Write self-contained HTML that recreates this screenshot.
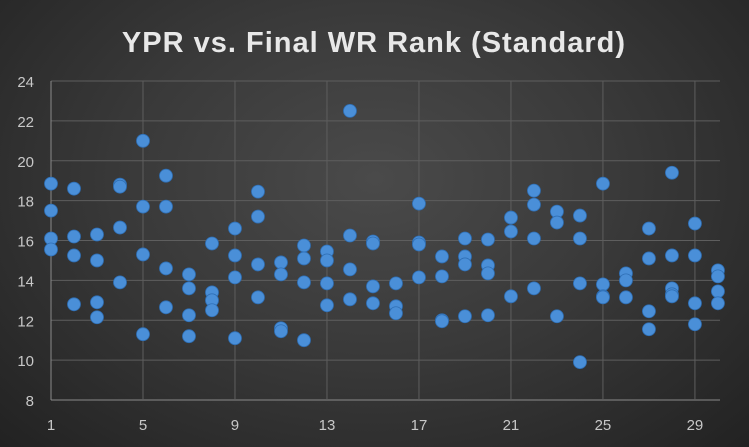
<!DOCTYPE html>
<html><head><meta charset="utf-8"><style>
html,body{margin:0;padding:0;background:#2b2b2b}
#wrap{width:749px;height:447px;position:relative;overflow:hidden;background:radial-gradient(ellipse at 50% 40%,#4a4a4a 0%,#3a3a3a 45%,#222 100%)}
svg{position:absolute;left:0;top:0}
text{font-family:"Liberation Sans",sans-serif}
</style></head><body>
<div id="wrap">
<svg id="chart" width="749" height="447">
<text x="374" y="52" text-anchor="middle" fill="#e8e8e8" font-size="29" font-weight="bold" letter-spacing="1">YPR vs. Final WR Rank (Standard)</text>
<g id="grid"></g>
<g id="axes"></g>
<g id="pts"></g>
</svg>
</div>
<script>
const xs=[1,1,1,1,2,2,2,2,3,3,3,3,4,4,4,4,5,5,5,5,6,6,6,6,7,7,7,7,8,8,8,8,9,9,9,9,10,10,10,10,11,11,11,11,12,12,12,12,13,13,13,13,14,14,14,14,15,15,15,15,16,16,16,17,17,17,17,18,18,18,18,19,19,19,19,20,20,20,20,21,21,21,22,22,22,22,23,23,23,24,24,24,24,25,25,25,25,26,26,26,27,27,27,27,28,28,28,28,28,29,29,29,29,30,30,30,30];
const ys=[18.85,17.5,16.1,15.55,18.6,16.2,15.25,12.8,16.3,15.0,12.9,12.15,18.8,18.7,16.65,13.9,21.0,17.7,15.3,11.3,19.25,17.7,14.6,12.65,14.3,13.6,12.25,11.2,15.85,13.4,13.0,12.5,16.6,15.25,14.15,11.1,18.45,17.2,14.8,13.15,14.9,14.3,11.6,11.45,15.75,15.1,13.9,11.0,15.45,15.0,13.85,12.75,22.5,16.25,14.55,13.05,15.95,15.85,13.7,12.85,13.85,12.7,12.35,17.85,15.9,15.8,14.15,15.2,14.2,12.0,11.95,16.1,15.2,14.8,12.2,16.05,14.75,14.35,12.25,17.15,16.45,13.2,18.5,17.8,16.1,13.6,17.45,16.9,12.2,17.25,16.1,13.85,9.9,18.85,13.8,13.2,13.15,14.35,14.0,13.15,16.6,15.1,12.45,11.55,19.4,15.25,13.6,13.3,13.2,16.85,15.25,12.85,11.8,14.5,14.2,13.45,12.85];
const yTicks=[8,10,12,14,16,18,20,22,24];
const xTicks=[1,5,9,13,17,21,25,29];
const X0=51,X1=720,Y0=400,Y1=81,xmin=1,xmax=30.09,ymin=8,ymax=24;
const sx=v=>X0+(v-xmin)/(xmax-xmin)*(X1-X0);
const sy=v=>Y0-(v-ymin)/(ymax-ymin)*(Y0-Y1);
const NS="http://www.w3.org/2000/svg";
const grid=document.getElementById('grid'),axes=document.getElementById('axes'),pts=document.getElementById('pts');
function mk(t,a){const e=document.createElementNS(NS,t);for(const k in a)e.setAttribute(k,a[k]);return e;}
yTicks.forEach(t=>{
 const l=mk('line',{x1:X0,x2:X1,y1:sy(t),y2:sy(t),stroke:t===ymin?'#8a8a8a':'#5e5e5e','stroke-width':1});
 
 
 grid.appendChild(l);
 const tx=mk('text',{x:34,y:sy(t)+6,'text-anchor':'end',fill:'#c8c8c8','font-size':15});
 tx.textContent=t;
 
 
 axes.appendChild(tx);
});
xTicks.forEach(t=>{
 const l=mk('line',{x1:sx(t),x2:sx(t),y1:Y1,y2:Y0,stroke:t===xmin?'#8a8a8a':'#5e5e5e','stroke-width':1});
 
 
 grid.appendChild(l);
 const tx=mk('text',{x:sx(t),y:430,'text-anchor':'middle',fill:'#c8c8c8','font-size':15});
 tx.textContent=t;
 
 
 axes.appendChild(tx);
});
xs.forEach((x,i)=>{
 const c=mk('circle',{cx:sx(x),cy:sy(ys[i]),r:6.5,fill:'#4a8fd8',stroke:'#2f6fb5','stroke-width':0.8});
 
 
 pts.appendChild(c);
});
</script>
</body></html>
